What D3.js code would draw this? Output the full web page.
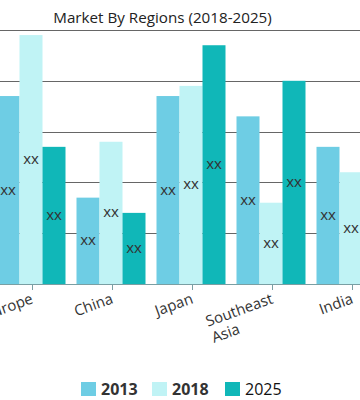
<!DOCTYPE html>
<html><head><meta charset="utf-8">
<script src="https://cdn.jsdelivr.net/npm/d3@7"></script>
<style>
html,body{margin:0;padding:0;background:#fff;overflow:hidden;}
svg{display:block;font-family:"Open Sans",sans-serif;}
</style></head>
<body>
<div id="chart"></div>
<script>
const title = "Market By Regions (2018-2025)";
const categories = ["Europe", "China", "Japan", "Southeast\nAsia", "India"];
const seriesNames = ["2013", "2018", "2025"];
const values2013 = [3.7, 1.7, 3.7, 3.3, 2.7];
const values2018 = [4.9, 2.8, 3.9, 1.6, 2.2];
const values2025 = [2.7, 1.4, 4.7, 4.0, null];
const yTicks = [0, 1, 2, 3, 4, 5];
const colors = ["#6ecde4", "#c0f3f5", "#10b7b8"];
const barLabel = "xx";

const W = 360, H = 400;
const svg = d3.select("#chart").append("svg").attr("width", W).attr("height", H);

const series = [values2013, values2018, values2025];
const baseY = 284, topY = 30;

const x0 = d3.scaleBand().domain(categories).range([-9, 391]).paddingInner(0.1375).paddingOuter(0.06875);
const x1 = d3.scaleBand().domain(seriesNames).range([0, x0.bandwidth()]);
const y = d3.scaleLinear().domain([0, 5]).range([baseY, topY]);

// title
svg.append("text").attr("x", 162.5).attr("y", 23).attr("text-anchor", "middle")
  .attr("font-size", 15.2).attr("fill", "#222").text(title);

// gridlines
svg.append("g").selectAll("line").data(yTicks.filter(d => d > 0)).join("line")
  .attr("x1", 0).attr("x2", W).attr("y1", d => Math.round(y(d)) + 0.5).attr("y2", d => Math.round(y(d)) + 0.5)
  .attr("stroke", "#666").attr("stroke-width", 1);

// bars
const rows = [];
categories.forEach((c, i) => seriesNames.forEach((s, j) => {
  if (series[j][i] != null) rows.push({c, s, j, v: series[j][i]});
}));
const g = svg.append("g");
g.selectAll("rect").data(rows).join("rect")
  .attr("x", d => x0(d.c) + x1(d.s)).attr("width", x1.bandwidth())
  .attr("y", d => y(d.v)).attr("height", d => y(0) - y(d.v))
  .attr("fill", d => colors[d.j]);
g.selectAll("text").data(rows).join("text")
  .attr("x", d => x0(d.c) + x1(d.s) + x1.bandwidth() / 2)
  .attr("y", d => (y(d.v) + y(0)) / 2).attr("dy", "0.3em")
  .attr("text-anchor", "middle").attr("font-size", 15).attr("fill", "#333").text(barLabel);

// x axis
const ax = svg.append("g").attr("transform", `translate(0,${baseY})`);
ax.append("line").attr("x1", 0).attr("x2", W).attr("y1", 0.5).attr("y2", 0.5).attr("stroke", "#7a9fa3");
ax.selectAll("line.tick").data(categories).join("line").attr("class", "tick")
  .attr("x1", d => x0(d) + x0.bandwidth() / 2 + 1.5).attr("x2", d => x0(d) + x0.bandwidth() / 2 + 1.5)
  .attr("y1", 0).attr("y2", 6).attr("stroke", "#7a9fa3");
ax.selectAll("text").data(categories).join("text")
  .attr("transform", d => `translate(${x0(d) + x0.bandwidth() / 2 + 2},${16}) rotate(-20)`)
  .attr("font-size", 15).attr("fill", "#333")
  .each(function(d) {
    const t = d3.select(this);
    const lines = d.split("\n");
    const spans = lines.map((l, i) => t.append("tspan").attr("x", 0).attr("dy", i === 0 ? "0.2em" : "1.15em").text(l));
    const widths = spans.map(s => s.node().getComputedTextLength());
    const maxW = d3.max(widths);
    spans.forEach(s => s.attr("x", -maxW));
  });

// legend
const legendX = [81, 152, 225];
const lg = svg.append("g");
seriesNames.forEach((s, i) => {
  lg.append("rect").attr("x", legendX[i]).attr("y", 382).attr("width", 15).attr("height", 14).attr("fill", colors[i]);
  lg.append("text").attr("x", legendX[i] + 20).attr("y", 395).attr("font-size", 16)
    .attr("font-weight", i < 2 ? "bold" : "normal").attr("fill", i < 2 ? "#333" : "#111").text(s);
});
</script>
</body></html>
